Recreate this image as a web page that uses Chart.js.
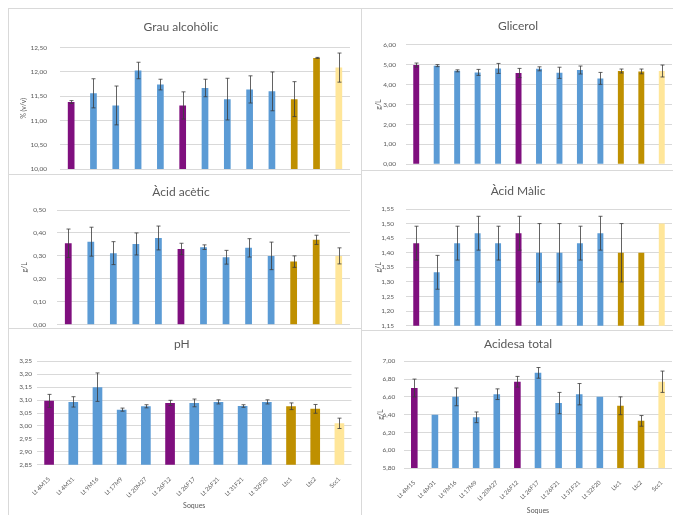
<!DOCTYPE html>
<html>
<head>
<meta charset="utf-8">
<script src="https://cdn.jsdelivr.net/npm/chart.js@4.4.1/dist/chart.umd.min.js"></script>
<style>
  html, body { margin: 0; padding: 0; background: #fff; }
  #wrap { position: relative; width: 673px; height: 515px; overflow: hidden; background: #fff; }
  #wrap canvas { position: absolute; }
  .frame { position: absolute; background: #d9d9d9; }
</style>
</head>
<body>
<div id="wrap"></div>
<script>
// Strains (soques) shown on every panel
const categories = ['Lt 4M15', 'Lt 4M31', 'Lt 9M16', 'Lt 17M9', 'Lt 20M27', 'Lt 26F12',
                    'Lt 26F17', 'Lt 26F21', 'Lt 31F21', 'Lt 32F20', 'Ltc1', 'Ltc2', 'Scc1'];

// Grau alcohòlic, % (v/v): mean and standard deviation
const grauMean = [11.38, 11.56, 11.31, 12.03, 11.74, 11.31, 11.67, 11.44, 11.64, 11.60, 11.44, 12.29, 12.09];
const grauSd   = [0.03, 0.30, 0.40, 0.17, 0.11, 0.28, 0.18, 0.43, 0.28, 0.40, 0.36, 0.01, 0.30];

// Glicerol, g/L
const glicerolMean = [4.98, 4.95, 4.69, 4.61, 4.81, 4.58, 4.79, 4.59, 4.73, 4.31, 4.68, 4.66, 4.68];
const glicerolSd   = [0.10, 0.05, 0.05, 0.15, 0.25, 0.23, 0.10, 0.28, 0.20, 0.30, 0.10, 0.12, 0.30];

// Àcid acètic, g/L
const aceticMean = [0.355, 0.362, 0.312, 0.352, 0.378, 0.330, 0.338, 0.294, 0.335, 0.300, 0.275, 0.370, 0.300];
const aceticSd   = [0.062, 0.063, 0.050, 0.048, 0.052, 0.025, 0.010, 0.030, 0.040, 0.060, 0.025, 0.020, 0.035];

// Àcid Màlic, g/L
const malicMean = [1.433, 1.333, 1.433, 1.467, 1.433, 1.467, 1.400, 1.400, 1.433, 1.467, 1.400, 1.400, 1.500];
const malicSd   = [0.058, 0.058, 0.058, 0.058, 0.058, 0.058, 0.100, 0.100, 0.058, 0.058, 0.100, 0, 0];

// pH
const phMean = [3.097, 3.093, 3.150, 3.063, 3.076, 3.089, 3.089, 3.093, 3.077, 3.093, 3.076, 3.066, 3.010];
const phSd   = [0.025, 0.020, 0.055, 0.006, 0.006, 0.010, 0.015, 0.008, 0.005, 0.008, 0.013, 0.017, 0.020];

// Acidesa total, g/L
const acidesaMean = [6.70, 6.40, 6.60, 6.37, 6.63, 6.77, 6.87, 6.53, 6.63, 6.60, 6.50, 6.33, 6.77];
const acidesaSd   = [0.10, 0, 0.10, 0.06, 0.06, 0.06, 0.06, 0.12, 0.12, 0, 0.10, 0.06, 0.12];

// Bar fill by strain group
const PURPLE = '#7f0f7e', BLUE = '#5b9bd5', GOLD = '#bf9000', PALE = '#ffe699';
const barColors = [PURPLE, BLUE, BLUE, BLUE, BLUE, PURPLE, BLUE, BLUE, BLUE, BLUE, GOLD, GOLD, PALE];

const GREY = '#595959';
const FONT = 'Lato, "Open Sans", sans-serif';
const wrap = document.getElementById('wrap');

// Symmetric error bars drawn through the y scale of each chart
const errorBars = {
  id: 'errorBars',
  afterDatasetsDraw(chart) {
    const ctx = chart.ctx;
    const yScale = chart.scales.y;
    chart.data.datasets.forEach((ds, di) => {
      const meta = chart.getDatasetMeta(di);
      meta.data.forEach((bar, i) => {
        const e = ds.errors[i];
        if (!e) return;
        const v = ds.data[i];
        const yTop = yScale.getPixelForValue(v + e);
        const yBot = yScale.getPixelForValue(v - e);
        const x = Math.round(bar.x) + 0.5;
        ctx.save();
        ctx.strokeStyle = 'rgba(60,60,60,0.8)';
        ctx.lineWidth = 1;
        ctx.beginPath();
        ctx.moveTo(x, yTop); ctx.lineTo(x, yBot);
        ctx.moveTo(x - 2, yTop); ctx.lineTo(x + 2, yTop);
        ctx.moveTo(x - 2, yBot); ctx.lineTo(x + 2, yBot);
        ctx.stroke();
        ctx.restore();
      });
    });
  }
};

function fmt(v) { return v.toFixed(2).replace('.', ','); }

function panel(p) {
  const c = document.createElement('canvas');
  c.width = p.w; c.height = p.h;
  c.style.left = p.x + 'px'; c.style.top = p.y + 'px';
  c.style.width = p.w + 'px'; c.style.height = p.h + 'px';
  wrap.appendChild(c);
  return new Chart(c, {
    type: 'bar',
    data: {
      labels: categories,
      datasets: [{
        data: p.values,
        errors: p.errors,
        backgroundColor: barColors,
        borderWidth: 0,
        barPercentage: 1,
        categoryPercentage: p.barFrac
      }]
    },
    options: {
      responsive: false,
      animation: false,
      devicePixelRatio: 1,
      layout: { padding: { left: p.pl, right: p.pr, top: 0, bottom: 0 } },
      plugins: {
        legend: { display: false },
        tooltip: { enabled: false },
        title: {
          display: true, text: p.title, color: GREY,
          font: { family: FONT, size: 12, weight: 'normal', lineHeight: 1.2 },
          padding: { top: p.tt, bottom: p.tb }
        }
      },
      scales: {
        x: {
          display: true,
          grid: { display: false },
          border: { display: false },
          ticks: {
            display: p.showCats, autoSkip: false, maxRotation: 45, minRotation: 45,
            color: GREY, font: { family: FONT, size: 6 }, padding: 3
          },
          title: {
            display: p.showCats, text: 'Soques', color: GREY,
            font: { family: FONT, size: 7, lineHeight: 1.2 }, padding: 0
          },
          afterFit: s => { s.height = p.xh; }
        },
        y: {
          min: p.min, max: p.max,
          ticks: {
            stepSize: p.step, color: GREY, padding: 0,
            font: { family: FONT, size: 6.5, lineHeight: 1 },
            callback: v => fmt(v)
          },
          // invisible tick marks keep the labels clear of the plot area
          grid: { color: '#d9d9d9', drawTicks: true, tickLength: p.tp, tickColor: 'rgba(0,0,0,0)' },
          border: { display: false },
          title: {
            display: !!p.ytitle, text: p.ytitle || '', color: GREY,
            font: { family: FONT, size: 7, lineHeight: 1.2 },
            padding: { top: p.yp || 0, bottom: 0 }
          },
          afterFit: s => { s.width = p.yw; }
        }
      }
    },
    plugins: [errorBars]
  });
}

// Panel frames
function line(x, y, w, h) {
  const d = document.createElement('div');
  d.className = 'frame';
  d.style.left = x + 'px'; d.style.top = y + 'px';
  d.style.width = w + 'px'; d.style.height = h + 'px';
  wrap.appendChild(d);
}
line(8, 8, 665, 1);
line(8, 8, 1, 507);
line(361, 8, 1, 507);
line(8, 174, 353, 1);
line(8, 328, 353, 1);
line(361, 170, 312, 1);
line(361, 330, 312, 1);

panel({ x: 8, y: 9, w: 353, h: 165, title: 'Grau alcohòlic', values: grauMean, errors: grauSd,
  min: 10, max: 12.5, step: 0.5, ytitle: '% (v/v)', showCats: false,
  pl: 4, pr: 11, yw: 48, tp: 13, yp: 7.8, tt: 11, tb: 13.3, xh: 5, barFrac: 0.3 });

panel({ x: 362, y: 9, w: 311, h: 161, title: 'Glicerol', values: glicerolMean, errors: glicerolSd,
  min: 0, max: 6, step: 1, ytitle: 'g/L', showCats: false,
  pl: 2, pr: 1, yw: 42, tp: 10, yp: 10.1, tt: 9.5, tb: 11.8, xh: 5.7, barFrac: 0.29 });

panel({ x: 8, y: 175, w: 353, h: 153, title: 'Àcid acètic', values: aceticMean, errors: aceticSd,
  min: 0, max: 0.5, step: 0.1, ytitle: 'g/L', showCats: false,
  pl: 4, pr: 11, yw: 45, tp: 11, yp: 8.8, tt: 9.5, tb: 11.1, xh: 3.3, barFrac: 0.3 });

panel({ x: 362, y: 171, w: 311, h: 159, title: 'Àcid Màlic', values: malicMean, errors: malicSd,
  min: 1.15, max: 1.55, step: 0.05, ytitle: 'g/L', showCats: false,
  pl: 2, pr: 1, yw: 42, tp: 12, yp: 10.1, tt: 12.5, tb: 11.1, xh: 4.3, barFrac: 0.29 });

panel({ x: 8, y: 329, w: 353, h: 181, title: 'pH', values: phMean, errors: phSd,
  min: 2.85, max: 3.25, step: 0.05, ytitle: '', showCats: true,
  pl: 4, pr: 9.5, yw: 25, tp: 5, tt: 8, tb: 9.9, xh: 45.3, barFrac: 0.4 });

panel({ x: 362, y: 331, w: 311, h: 184, title: 'Acidesa total', values: acidesaMean, errors: acidesaSd,
  min: 5.8, max: 7.0, step: 0.2, ytitle: 'g/L', showCats: true,
  pl: 2, pr: 1, yw: 40, tp: 8.7, yp: 12.1, tt: 5.5, tb: 10.4, xh: 47, barFrac: 0.32 });
</script>
</body>
</html>
